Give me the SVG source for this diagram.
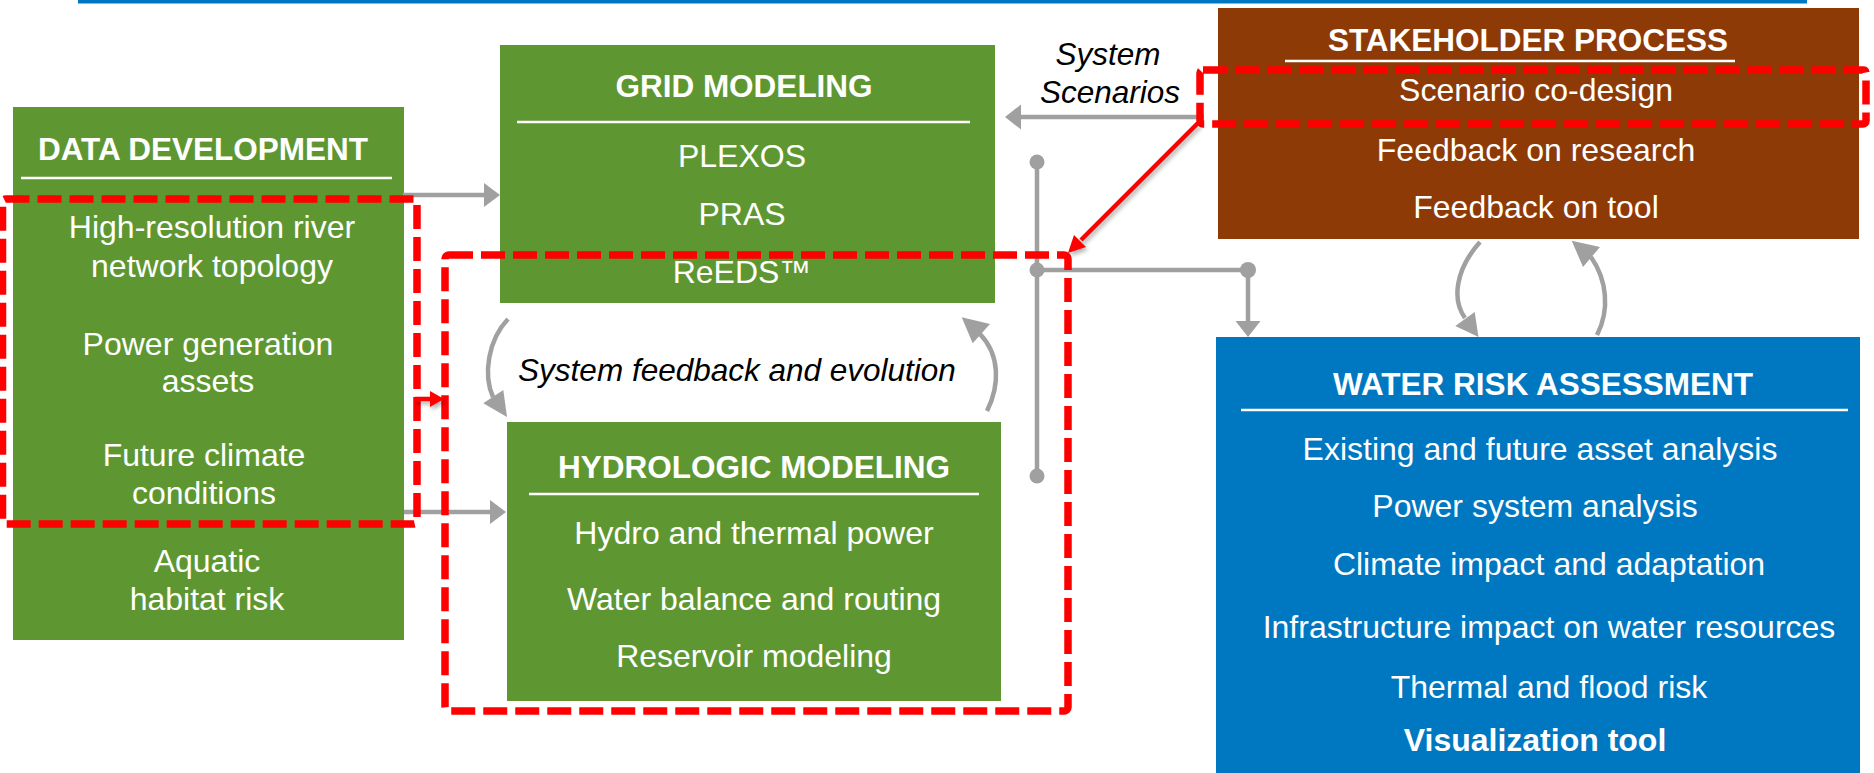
<svg xmlns="http://www.w3.org/2000/svg" width="1874" height="773" viewBox="0 0 1874 773">
  <defs>
    <style>
      .box-green { fill: #5E9732; }
      .box-brown { fill: #8E3A07; }
      .box-blue { fill: #0078C1; }
      .head { font-family: "Liberation Sans", Arial, sans-serif; font-size: 31.5px; font-weight: bold; fill: #FFFFFF; text-anchor: middle; }
      .item { font-family: "Liberation Sans", Arial, sans-serif; font-size: 32px; fill: #FFFFFF; text-anchor: middle; }
      .item-bold { font-family: "Liberation Sans", Arial, sans-serif; font-size: 32px; font-weight: bold; fill: #FFFFFF; text-anchor: middle; }
      .label { font-family: "Liberation Sans", Arial, sans-serif; font-size: 31.5px; font-style: italic; fill: #000000; text-anchor: middle; }
      .rule { stroke: #FFFFFF; stroke-width: 2.5; }
      .flow { fill: none; stroke: #A0A0A0; stroke-width: 4.5; }
      .flow-head { fill: #A0A0A0; }
      .dot { fill: #A0A0A0; }
      .focus { fill: none; stroke: #FF0000; stroke-width: 7.5; stroke-dasharray: 24 8; }
      .red-line { fill: none; stroke: #FF0000; stroke-width: 4.5; }
      .red-head { fill: #FF0000; }
    </style>
    <filter id="soft-shadow" x="-30%" y="-30%" width="160%" height="160%">
      <feDropShadow dx="2" dy="3" stdDeviation="2" flood-color="#000000" flood-opacity="0.3"/>
    </filter>
  </defs>

  <!-- page header rule -->
  <rect x="78" y="0" width="1729" height="3.5" fill="#0078C1"/>

  <!-- DATA DEVELOPMENT -->
  <g id="data-development">
    <rect class="box-green" x="13" y="107" width="391" height="533"/>
    <text class="head" x="203" y="160">DATA DEVELOPMENT</text>
    <line class="rule" x1="21" y1="178" x2="392" y2="178"/>
    <text class="item" x="212" y="238">High-resolution river</text>
    <text class="item" x="212" y="277">network topology</text>
    <text class="item" x="208" y="355">Power generation</text>
    <text class="item" x="208" y="392">assets</text>
    <text class="item" x="204" y="466">Future climate</text>
    <text class="item" x="204" y="504">conditions</text>
    <text class="item" x="207" y="572">Aquatic</text>
    <text class="item" x="207" y="610">habitat risk</text>
  </g>

  <!-- GRID MODELING -->
  <g id="grid-modeling">
    <rect class="box-green" x="500" y="45" width="495" height="258"/>
    <text class="head" x="744" y="97">GRID MODELING</text>
    <line class="rule" x1="517" y1="122" x2="970" y2="122"/>
    <text class="item" x="742" y="167">PLEXOS</text>
    <text class="item" x="742" y="225">PRAS</text>
    <text class="item" x="742" y="283">ReEDS™</text>
  </g>

  <!-- HYDROLOGIC MODELING -->
  <g id="hydrologic-modeling">
    <rect class="box-green" x="507" y="422" width="494" height="279"/>
    <text class="head" x="754" y="478">HYDROLOGIC MODELING</text>
    <line class="rule" x1="529" y1="494" x2="979" y2="494"/>
    <text class="item" x="754" y="544">Hydro and thermal power</text>
    <text class="item" x="754" y="610">Water balance and routing</text>
    <text class="item" x="754" y="667">Reservoir modeling</text>
  </g>

  <!-- STAKEHOLDER PROCESS -->
  <g id="stakeholder-process">
    <rect class="box-brown" x="1218" y="8" width="641" height="231"/>
    <text class="head" x="1528" y="51">STAKEHOLDER PROCESS</text>
    <line class="rule" x1="1285" y1="61" x2="1735" y2="61"/>
    <text class="item" x="1536" y="101">Scenario co-design</text>
    <text class="item" x="1536" y="161">Feedback on research</text>
    <text class="item" x="1536" y="218">Feedback on tool</text>
  </g>

  <!-- WATER RISK ASSESSMENT -->
  <g id="water-risk-assessment">
    <rect class="box-blue" x="1216" y="337" width="644" height="436"/>
    <text class="head" x="1543" y="395">WATER RISK ASSESSMENT</text>
    <line class="rule" x1="1241" y1="410" x2="1848" y2="410"/>
    <text class="item" x="1540" y="460">Existing and future asset analysis</text>
    <text class="item" x="1535" y="517">Power system analysis</text>
    <text class="item" x="1549" y="575">Climate impact and adaptation</text>
    <text class="item" x="1549" y="638">Infrastructure impact on water resources</text>
    <text class="item" x="1549" y="698">Thermal and flood risk</text>
    <text class="item-bold" x="1535" y="751">Visualization tool</text>
  </g>

  <!-- connector labels -->
  <g id="labels">
    <text class="label" x="1108" y="65">System</text>
    <text class="label" x="1110" y="103">Scenarios</text>
    <text class="label" x="737" y="381">System feedback and evolution</text>
  </g>

  <!-- connectors -->
  <g id="connectors">
    <!-- data development to grid modeling -->
    <path class="flow" d="M403,195 H486"/>
    <polygon class="flow-head" points="484,183 500,195 484,207"/>
    <!-- data development to hydrologic modeling -->
    <path class="flow" d="M404,512 H492"/>
    <polygon class="flow-head" points="490,500 506,512 490,524"/>
    <!-- system scenarios to grid modeling -->
    <path class="flow" d="M1204,117 H1019"/>
    <polygon class="flow-head" points="1021,104.5 1005,117 1021,129.5"/>

    <!-- model output bus -->
    <path class="flow" d="M1037,162 V476"/>
    <path class="flow" d="M1037,270 H1248 V323"/>
    <polygon class="flow-head" points="1235.5,321 1248,337 1260.5,321"/>
    <circle class="dot" cx="1037" cy="162" r="7.5"/>
    <circle class="dot" cx="1037" cy="270" r="7.5"/>
    <circle class="dot" cx="1037" cy="476" r="7.5"/>
    <circle class="dot" cx="1248" cy="270" r="8"/>

    <!-- grid / hydrologic feedback loop -->
    <path class="flow" d="M508,319 C488,340 483,375 493,397"/>
    <polygon class="flow-head" points="483.3,403.3 507,417 503.3,390"/>
    <path class="flow" d="M987,411 C1000,385 1000,355 980,334"/>
    <polygon class="flow-head" points="990,324 961.7,317.3 972.7,343.3"/>

    <!-- stakeholder / water risk feedback loop -->
    <path class="flow" d="M1480,242 C1455,270 1452,300 1465,318"/>
    <polygon class="flow-head" points="1455.3,326 1478.5,337 1474.7,312"/>
    <path class="flow" d="M1597,335 C1610,310 1607,280 1591,257"/>
    <polygon class="flow-head" points="1583,267 1571.7,240.7 1600,247"/>
  </g>

  <!-- highlighted focus areas -->
  <g id="focus-areas">
    <rect class="focus" x="2.5" y="199" width="414.5" height="325" rx="3"/>
    <rect class="focus" x="445" y="255" width="623" height="456" rx="4"/>
    <rect class="focus" x="1200" y="70" width="666" height="54" rx="3"/>
    <g filter="url(#soft-shadow)">
      <path class="red-line" d="M1198,123 L1081,240"/>
      <polygon class="red-head" points="1086,247 1068,253 1074,235"/>
      <path class="red-line" d="M415,399 H431"/>
      <polygon class="red-head" points="430,391 444,399 430,407"/>
    </g>
  </g>
</svg>
